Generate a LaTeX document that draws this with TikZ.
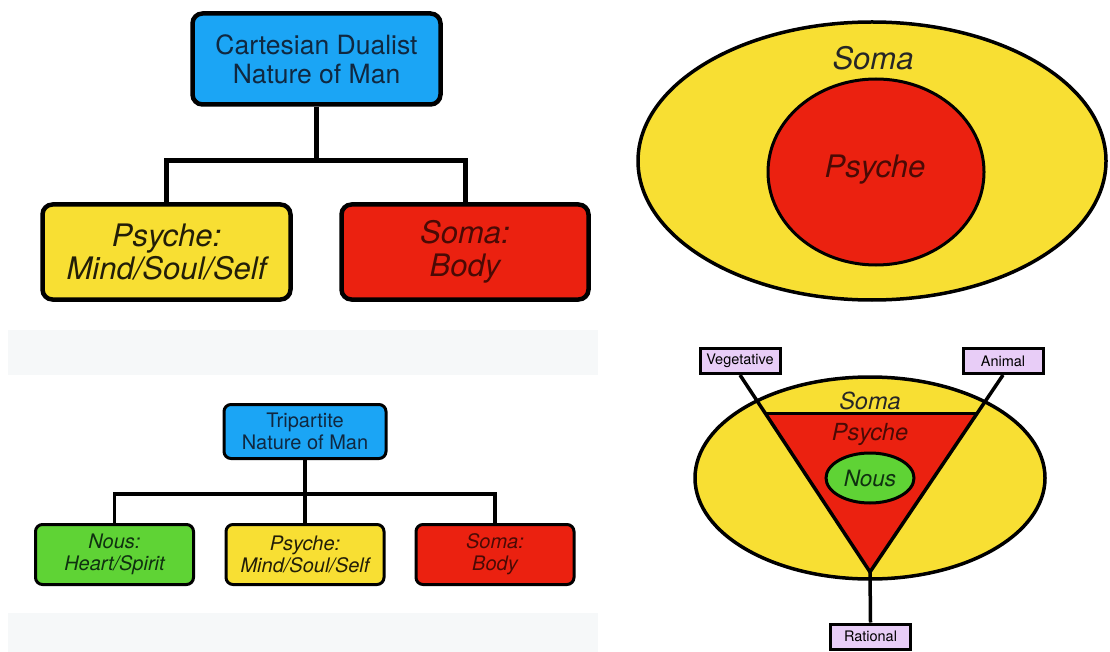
\documentclass[tikz,border=0pt]{standalone}
\usepackage{fontspec}
\setmainfont{TeX Gyre Heros}
\usetikzlibrary{calc}
\definecolor{blueF}{HTML}{1BA5F5}
\definecolor{yellowF}{HTML}{F8DF33}
\definecolor{redF}{HTML}{EB2110}
\definecolor{greenF}{HTML}{5FD335}
\definecolor{lavF}{HTML}{E8CDF7}
\definecolor{bandG}{HTML}{F6F8F9}
\definecolor{navyT}{HTML}{102840}
\definecolor{darkRedT}{HTML}{4A0A05}
\definecolor{darkGreenT}{HTML}{0F3010}
\definecolor{darkYelT}{HTML}{221E08}
\begin{document}
\begin{tikzpicture}[x=1pt,y=-1pt,
  bigbox/.style={draw=black, line width=4.5pt, rounded corners=10pt, align=center, inner sep=0pt,
                 minimum width=248pt, minimum height=92pt},
  smallbox/.style={draw=black, line width=3pt, rounded corners=7pt, align=center, inner sep=0pt,
                 minimum width=158pt, minimum height=60pt},
  tagbox/.style={draw=black, line width=3pt, fill=lavF, inner sep=0pt, minimum width=80pt,
                 minimum height=25pt, font=\fontsize{14.5}{16}\selectfont},
  bigconn/.style={line width=5pt, line join=miter},
  smallconn/.style={line width=3.5pt, line join=miter},
  shapeline/.style={line width=3.5pt, draw=black},
]
\useasboundingbox (0,0) rectangle (1110,652);
\fill[white] (0,0) rectangle (1110,652);
% faint background bands
\fill[bandG] (8,330) rectangle (598,375);
\fill[bandG] (8,613) rectangle (598,652);

% ---------- top-left: Cartesian dualist ----------
\node[bigbox, fill=blueF, text=navyT, font=\fontsize{26.5}{29}\selectfont, minimum height=91pt]
  (cart) at (316.5,59) {Cartesian Dualist\\Nature of Man};
\node[bigbox, fill=yellowF, text=darkYelT, font=\fontsize{31}{32.5}\selectfont\itshape, minimum height=95pt]
  (psy1) at (166.5,252) {Psyche:\\Mind/Soul/Self};
\node[bigbox, fill=redF, text=darkRedT, font=\fontsize{31}{32.5}\selectfont\itshape, minimum height=95pt, minimum width=247pt]
  (som1) at (465,252) {Soma:\\Body};
\coordinate (jt) at (316.5,161);
\draw[bigconn] (cart.south) -- (jt);
\draw[bigconn] (psy1.north) |- (jt) -| (som1.north);

% ---------- bottom-left: Tripartite ----------
\node[smallbox, fill=blueF, text=navyT, font=\fontsize{20}{21.5}\selectfont, minimum width=162pt, minimum height=54pt]
  (trip) at (305,431.5) {Tripartite\\Nature of Man};
\node[smallbox, fill=greenF, text=darkGreenT, font=\fontsize{20}{22}\selectfont\itshape]
  (nous2) at (114.5,554.5) {Nous:\\Heart/Spirit};
\node[smallbox, fill=yellowF, text=darkYelT, font=\fontsize{20}{22}\selectfont\itshape]
  (psy2) at (305,554.5) {Psyche:\\Mind/Soul/Self};
\node[smallbox, fill=redF, text=darkRedT, font=\fontsize{20}{22}\selectfont\itshape]
  (som2) at (495,554.5) {Soma:\\Body};
\coordinate (jb) at (305,494);
\draw[smallconn] (trip.south) -- (psy2.north);
\draw[smallconn] (nous2.north) |- (jb) -| (som2.north);

% ---------- top-right: nested ellipses ----------
\draw[shapeline, fill=yellowF] (872,161) ellipse [x radius=234, y radius=139];
\draw[shapeline, line width=3pt, fill=redF] (876,172) ellipse [x radius=108, y radius=93];
\node[font=\fontsize{31}{33}\selectfont\itshape, text=black!85] (somaT) at (873,58) {Soma};
\node[font=\fontsize{31}{33}\selectfont\itshape, text=darkRedT] (psyT) at (875,170) {Psyche};

% ---------- bottom-right: soul triangle ----------
\draw[shapeline, fill=yellowF] (870,478) ellipse [x radius=175, y radius=101];
\node[tagbox] (veg) at (740,361) {Vegetative};
\node[tagbox] (ani) at (1003,361) {Animal};
\node[tagbox] (rat) at (870.5,636.5) {Rational};
\coordinate (apex) at (870,572);
\coordinate (tl) at ($(veg.south)!0.195!(apex)$);
\coordinate (tr) at ($(ani.south)!0.195!(apex)$);
\fill[redF] (tl) -- (tr) -- (apex) -- cycle;
\draw[shapeline] (tl) -- (tr);
\draw[shapeline, line width=3pt, fill=greenF] (870,478) ellipse [x radius=44, y radius=25];
\node[font=\fontsize{23.5}{25}\selectfont\itshape, text=black!85] (somaB) at (870,401) {Soma};
\node[font=\fontsize{23.5}{25}\selectfont\itshape, text=darkRedT] (psyB) at (870,434) {Psyche};
\node[font=\fontsize{22.5}{24}\selectfont\itshape, text=darkGreenT] (nousB) at (870,478) {Nous};
\draw[shapeline, line join=miter] (veg.south) -- (apex) -- (ani.south);
\draw[shapeline] (apex) -- (rat.north);
\end{tikzpicture}
\end{document}
